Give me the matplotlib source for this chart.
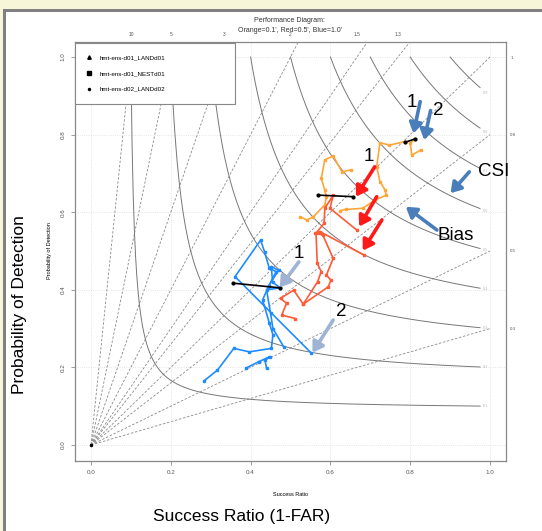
import numpy as np
import matplotlib.pyplot as plt
from matplotlib.lines import Line2D
from matplotlib.patches import Rectangle

plt.rcParams['font.family'] = ['Liberation Sans', 'DejaVu Sans']

# background reference lines
bias_vals = [0.3, 0.5, 0.8, 1, 1.3, 1.5, 2, 3, 5, 10]
bias_top = [10, 5, 3, 2, 1.5, 1.3]
bias_right = [1, 0.8, 0.5, 0.3]
csi_vals = [0.1, 0.2, 0.3, 0.4, 0.5, 0.6, 0.7, 0.8, 0.9]

# Orange = 0.1'
orange_a_sr = [0.524, 0.541, 0.557, 0.586, 0.590, 0.586, 0.577, 0.586, 0.607, 0.629, 0.651]
orange_a_pod = [0.588, 0.580, 0.588, 0.619, 0.640, 0.657, 0.687, 0.735, 0.745, 0.704, 0.709]
orange_b_sr = [0.625, 0.638, 0.681, 0.711, 0.740, 0.737, 0.724, 0.716, 0.724, 0.748, 0.787]
orange_b_pod = [0.604, 0.607, 0.610, 0.631, 0.644, 0.657, 0.679, 0.717, 0.779, 0.773, 0.782]
orange_c_sr = [0.812, 0.800, 0.804, 0.826]
orange_c_pod = [0.789, 0.778, 0.747, 0.760]

# Red = 0.5'
red_a_sr = [0.512, 0.478, 0.490, 0.475, 0.508, 0.532, 0.568, 0.577, 0.567, 0.564, 0.584,
            0.586, 0.607, 0.599, 0.666]
red_a_pod = [0.326, 0.335, 0.365, 0.378, 0.399, 0.363, 0.421, 0.447, 0.468, 0.546, 0.571,
             0.610, 0.644, 0.610, 0.554]
red_b_sr = [0.532, 0.595, 0.601, 0.590, 0.607, 0.581, 0.561, 0.574, 0.683]
red_b_pod = [0.363, 0.408, 0.425, 0.438, 0.481, 0.541, 0.546, 0.550, 0.490]

# Blue = 1.0'
blue_a_sr = [0.283, 0.317, 0.358, 0.397, 0.452, 0.456, 0.447, 0.430, 0.443, 0.464, 0.447,
             0.435, 0.425, 0.361, 0.551]
blue_a_pod = [0.165, 0.193, 0.249, 0.240, 0.249, 0.284, 0.314, 0.374, 0.404, 0.447, 0.455,
              0.498, 0.528, 0.434, 0.238]
blue_b_sr = [0.388, 0.421, 0.449, 0.436, 0.440]
blue_b_pod = [0.198, 0.215, 0.228, 0.219, 0.198]
blue_c_sr = [0.483, 0.456, 0.450, 0.440, 0.474, 0.455, 0.452, 0.470, 0.445]
blue_c_pod = [0.253, 0.300, 0.340, 0.400, 0.405, 0.420, 0.460, 0.450, 0.410]

# black connectors
black_sr = [[0.787, 0.812], [0.570, 0.657], [0.357, 0.474]]
black_pod = [[0.780, 0.789], [0.644, 0.640], [0.417, 0.405]]

fig = plt.figure(figsize=(5.42, 5.31), dpi=100)
fig.patch.set_facecolor('#f8f6d8')
fig.add_artist(Rectangle((3 / 542, 0), 1, 1 - 9 / 531, transform=fig.transFigure,
                         fc='#808080', ec='none', zorder=-10))
fig.add_artist(Rectangle((6 / 542, 0), 1, 1 - 12 / 531, transform=fig.transFigure,
                         fc='white', ec='none', zorder=-9))

ax = fig.add_axes([75 / 542, 70.5 / 531, 431 / 542, 419 / 531])
ax.set_facecolor('white')
ax.set_xlim(-0.04, 1.04)
ax.set_ylim(-0.04, 1.04)
ticks = [0.0, 0.2, 0.4, 0.6, 0.8, 1.0]
ax.set_xticks(ticks)
ax.set_yticks(ticks)
ax.set_xticklabels([f'{t:.1f}' for t in ticks], fontsize=4.5, color='#555555')
ax.set_yticklabels([f'{t:.1f}' for t in ticks], fontsize=4.5, color='#555555',
                   rotation=90, va='center')
ax.tick_params(length=3, width=0.5, color='#777777', pad=4)
for s in ax.spines.values():
    s.set_color('#888888')
    s.set_linewidth(0.9)
ax.grid(color='#dddddd', linestyle=':', linewidth=0.6)

# bias lines
for b in bias_vals:
    ax.plot([0, 1], [0, b], ls=(0, (3, 2)), color='#8a8a8a', lw=0.6)

# CSI curves
for c in csi_vals:
    sr = np.linspace(c, 0.975, 300)
    pod = 1 / (1 / c + 1 - 1 / sr)
    ax.plot(sr, pod, color='#777777', lw=0.7)
    ax.text(0.99, 1 / (1 / c + 1 - 1 / 0.99), f'{c:g}', fontsize=2.8,
            color='#bbbbbb', ha='center', va='center')

top = ax.secondary_xaxis('top')
top.set_xticks([1 / b for b in bias_top])
top.set_xticklabels([f'{b:g}' for b in bias_top], fontsize=3.5, color='#555555')
top.tick_params(length=0, pad=3)
top.spines['top'].set_visible(False)

right = ax.secondary_yaxis('right')
right.set_yticks(bias_right)
right.set_yticklabels([f'{b:g}' for b in bias_right], fontsize=3.2, color='#555555')
right.tick_params(length=0, pad=3)
right.spines['right'].set_visible(False)

orange = '#ffa63a'
red = '#ff5a36'
blue = '#1e8cff'
kw = dict(lw=1.2, marker='s', markersize=2.0)
ax.plot(orange_a_sr, orange_a_pod, color=orange, **kw)
ax.plot(orange_b_sr, orange_b_pod, color=orange, **kw)
ax.plot(orange_c_sr, orange_c_pod, color=orange, **kw)
ax.plot(red_a_sr, red_a_pod, color=red, **kw)
ax.plot(red_b_sr, red_b_pod, color=red, **kw)
ax.plot(blue_a_sr, blue_a_pod, color=blue, **kw)
ax.plot(blue_b_sr, blue_b_pod, color=blue, **kw)
ax.plot(blue_c_sr, blue_c_pod, color=blue, **kw)
for xs, ys in zip(black_sr, black_pod):
    ax.plot(xs, ys, color='black', lw=1.2, marker='o', markersize=2.0)
ax.plot([0], [0], 'ko', markersize=1.5)

handles = [Line2D([], [], ls='none', marker='^', color='k', markersize=2.5),
           Line2D([], [], ls='none', marker='s', color='k', markersize=2.2),
           Line2D([], [], ls='none', marker='o', color='k', markersize=1.5)]
labels = ['hmt-ens-d01_LANDd01', 'hmt-ens-d01_NESTd01', 'hmt-ens-d02_LANDd02']
leg = ax.legend(handles, labels, loc='upper left', bbox_to_anchor=(0, 0, 0.371, 0.996),
                mode='expand', borderaxespad=0, fontsize=4.5, labelspacing=1.65,
                borderpad=1.9, handlelength=0.8, handletextpad=1.3, fancybox=False,
                framealpha=1, edgecolor='#888888')
leg.get_frame().set_linewidth(0.8)

ax.set_xlabel('Success Ratio', fontsize=4, labelpad=12)
ax.set_ylabel('Probability of Detection', fontsize=4, labelpad=6)
fig.text(290 / 542, 1 - 20 / 531, 'Performance Diagram:', fontsize=5,
         ha='center', va='center', color='#333333')
fig.text(290 / 542, 1 - 30 / 531, "Orange=0.1', Red=0.5', Blue=1.0'", fontsize=5,
         ha='center', va='center', color='#333333')

fig.text(20 / 542, 1 - 305 / 531, 'Probability of Detection', fontsize=12.5,
         rotation=90, ha='center', va='center')
fig.text(242 / 542, 1 - 517 / 531, 'Success Ratio (1-FAR)', fontsize=12.5,
         ha='center', va='center')

# annotations
def arrow(start, tip, color):
    ax.annotate('', xy=tip, xytext=start,
                arrowprops=dict(arrowstyle='-|>,head_length=0.5,head_width=0.32',
                                lw=2.6, color=color, mutation_scale=12,
                                shrinkA=0, shrinkB=0))

steel = '#4a7ebb'
pale = '#9fb4d2'
arrow((0.825, 0.885), (0.808, 0.803), steel)
arrow((0.851, 0.862), (0.835, 0.786), steel)
arrow((0.948, 0.704), (0.901, 0.649), steel)
arrow((0.867, 0.554), (0.789, 0.614), steel)
arrow((0.711, 0.717), (0.664, 0.640), '#ff1a1a')
arrow((0.716, 0.640), (0.672, 0.563), '#ff1a1a')
arrow((0.729, 0.580), (0.681, 0.501), '#ff1a1a')
arrow((0.521, 0.472), (0.473, 0.406), pale)
arrow((0.607, 0.322), (0.555, 0.238), pale)

tk = dict(fontsize=13.5, ha='center', va='center')
ax.text(0.803, 0.883, '1', **tk)
ax.text(0.870, 0.862, '2', **tk)
ax.text(1.008, 0.704, 'CSI', **tk)
ax.text(0.915, 0.541, 'Bias', **tk)
ax.text(0.695, 0.743, '1', **tk)
ax.text(0.520, 0.494, '1', **tk)
ax.text(0.628, 0.344, '2', **tk)

fig.savefig('out.png', dpi=100, facecolor=fig.get_facecolor())
